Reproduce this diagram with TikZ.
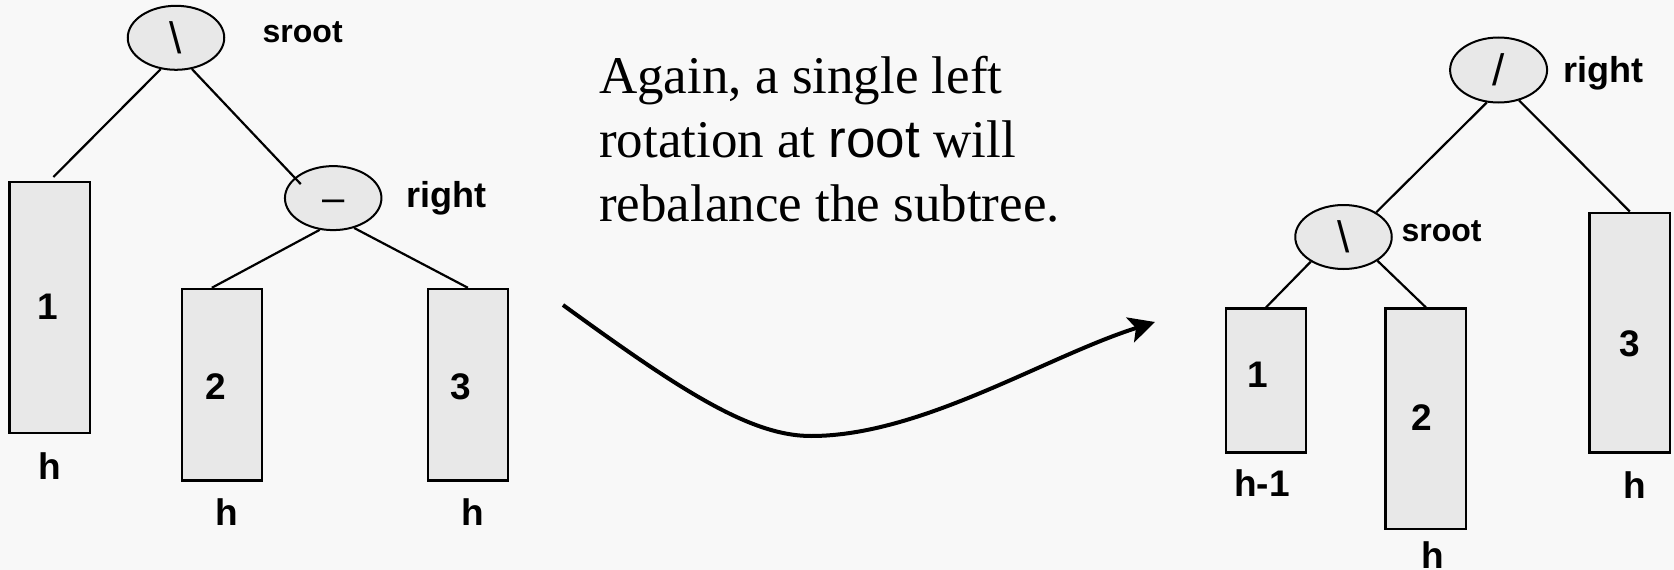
\documentclass[tikz,border=0pt]{standalone}
\usepackage{fontspec}
\setmainfont{Liberation Serif}
\setsansfont{Liberation Sans}
\usetikzlibrary{arrows.meta,shapes.geometric}
\definecolor{bg}{HTML}{F8F8F8}
\definecolor{boxfill}{HTML}{E8E8E8}
\begin{document}
\begin{tikzpicture}[x=1pt,y=-1pt,
  treenode/.style={ellipse, draw, line width=2pt, fill=boxfill, inner sep=0pt,
    minimum width=96.5pt, minimum height=64pt, font=\sffamily\fontsize{44}{44}\selectfont},
  subtree/.style={rectangle, draw, line width=2.4pt, fill=boxfill, inner sep=0pt},
  lbl/.style={inner sep=0pt, font=\sffamily\bfseries\fontsize{37}{40}\selectfont},
  tag/.style={inner sep=0pt, anchor=base west, font=\sffamily\bfseries\fontsize{36}{40}\selectfont},
  stag/.style={inner sep=0pt, anchor=base west, font=\sffamily\bfseries\fontsize{32}{36}\selectfont},
  edge/.style={line width=2.2pt},
  caption/.style={inner sep=0pt, anchor=base west, font=\rmfamily\fontsize{53}{63.6}\selectfont}
]
\useasboundingbox (0,0) rectangle (1674,570);
\fill[bg] (0,0) rectangle (1674,570);

% ---- left tree ----
\node[treenode] (ls) at (176,37.8) {\textbackslash};
\node[treenode] (lr) at (333.2,198.1) {\fontsize{40}{40}\selectfont\smash{\raisebox{-13.7pt}{\textendash}}};
\node[subtree, minimum width=80.4pt, minimum height=251pt] (lb1) at (49.8,307.3) {};
\node[subtree, minimum width=80pt, minimum height=191.6pt] (lb2) at (221.8,384.8) {};
\node[subtree, minimum width=80pt, minimum height=191.6pt] (lb3) at (467.9,384.8) {};
\node[stag] (lst) at (262.5,42.9) {sroot};
\node[tag] (lrt) at (406.4,207.2) {right};
\node[lbl] (l1) at (47.5,306.4) {1};
\node[lbl] (l2) at (215.4,386.4) {2};
\node[lbl] (l3) at (460.7,386.4) {3};
\node[lbl] (lh1) at (50.3,466) {h};
\node[lbl] (lh2) at (226.8,511.8) {h};
\node[lbl] (lh3) at (473.2,511.8) {h};
\draw[edge, shorten >=5pt] (ls.244) -- (lb1.north);
\draw[edge, shorten >=-9pt] (ls.297) -- (lr.152);
\draw[edge] (lr.247) -- ([xshift=-10pt]lb2.north);
\draw[edge] (lr.305) -- (lb3.north);

% ---- caption ----
\node[caption] (t1) at (599,93.8) {Again, a single left};
\node[caption] (t2) at (599,157) {rotation at {\sffamily root} will};
\node[caption] (t3) at (599,221) {rebalance the subtree.};

% ---- arrow ----
\coordinate (cs) at (563,305);
\coordinate (cm) at (811,436);
\coordinate (ce) at (1155,322);
\draw[line width=4pt, -{Stealth[length=26pt,width=26pt,inset=6pt]}]
  (cs) .. controls (680,390) and (750,436) .. (cm)
       .. controls (921,436) and (1045,357) .. (ce);

% ---- right tree ----
\node[treenode, minimum width=97pt, minimum height=65pt] (rr) at (1498.6,70) {/};
\node[treenode] (rs) at (1343.5,237) {\textbackslash};
\node[subtree, minimum width=80.2pt, minimum height=144pt] (rb1) at (1266,380.6) {};
\node[subtree, minimum width=80.6pt, minimum height=220.4pt] (rb2) at (1425.9,418.8) {};
\node[subtree, minimum width=80.5pt, minimum height=239.9pt] (rb3) at (1629.75,332.65) {};
\node[tag] (rrt) at (1563.4,82.9) {right};
\node[stag] (rst) at (1401.3,241.7) {sroot};
\node[lbl] (r1) at (1258,374.4) {1};
\node[lbl] (r2) at (1421.7,418) {2};
\node[lbl] (r3) at (1629.6,343.5) {3};
\node[lbl] (rh1) at (1262,483.5) {h-1};
\node[lbl] (rh2) at (1432.5,555) {h};
\node[lbl] (rh3) at (1634.6,485.3) {h};
\draw[edge] (rr.250) -- (rs.37);
\draw[edge] (rr.304) -- (rb3.north);
\draw[edge] (rs.217) -- (rb1.north);
\draw[edge] (rs.325) -- (rb2.north);
\end{tikzpicture}
\end{document}
